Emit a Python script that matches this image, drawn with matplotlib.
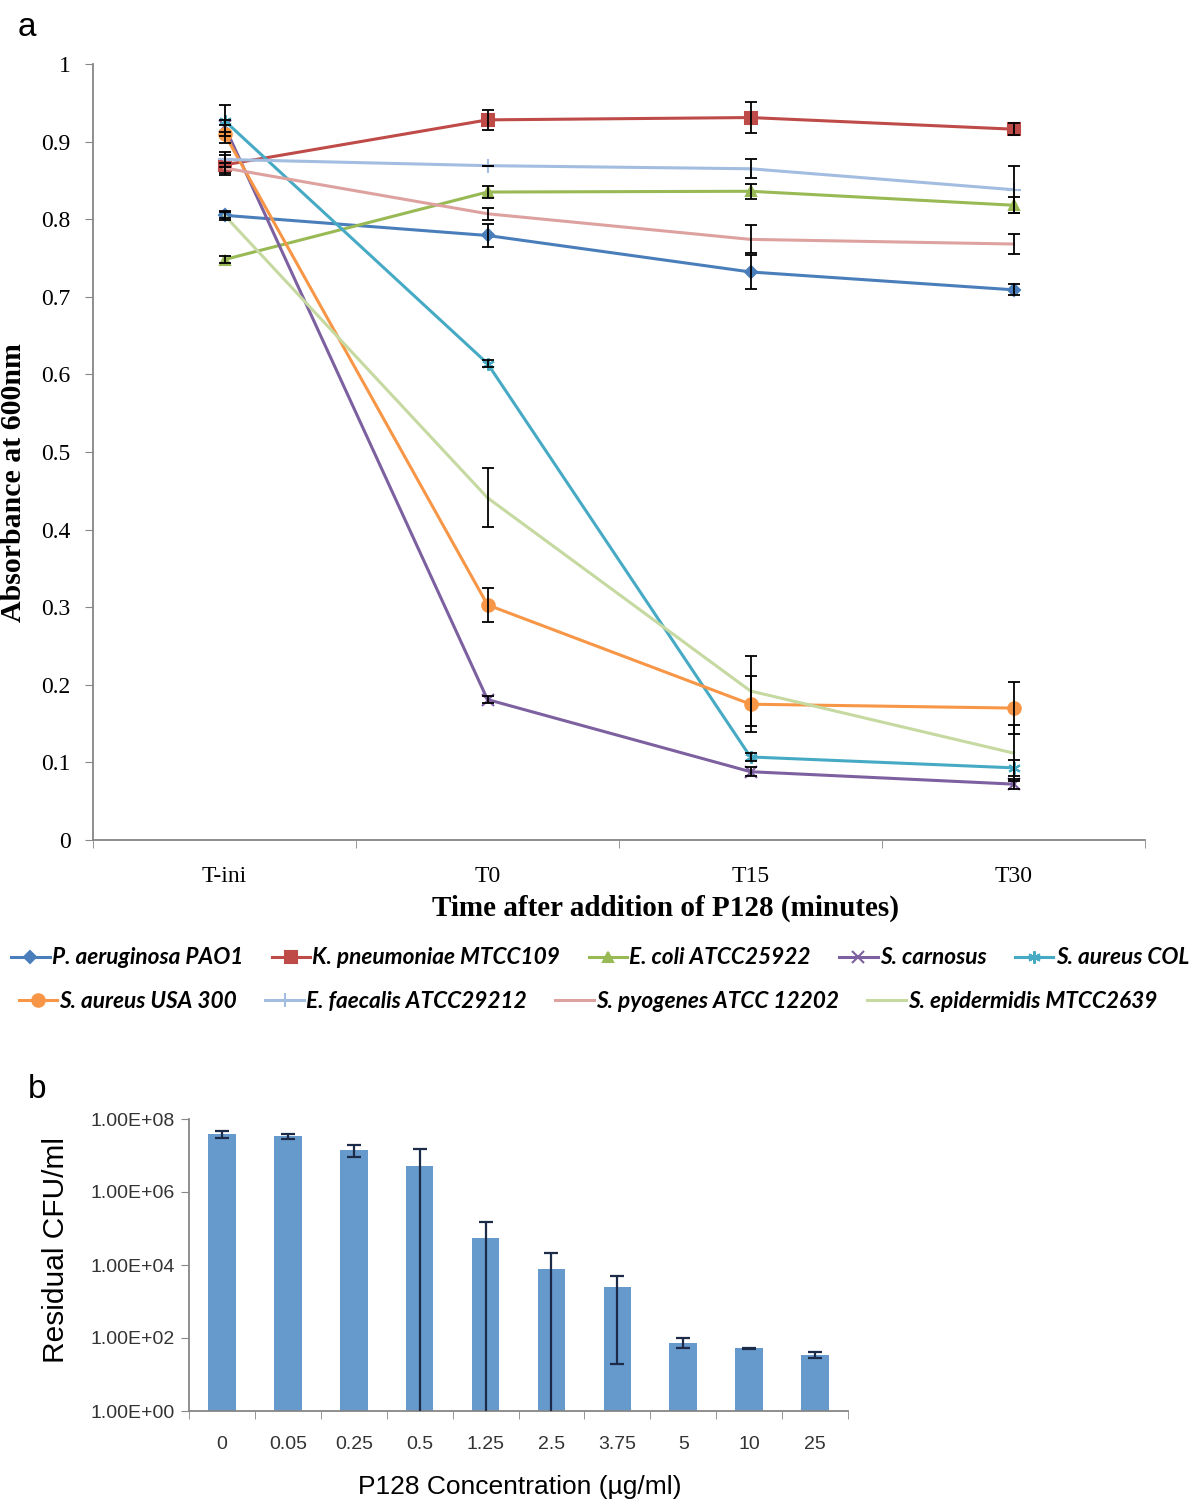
import numpy as np
import matplotlib.pyplot as plt
from matplotlib.ticker import FixedLocator, NullFormatter, FixedFormatter

# ---- panel a: absorbance over time ----
times = ['T-ini', 'T0', 'T15', 'T30']

strains = ['P. aeruginosa PAO1', 'K. pneumoniae MTCC109', 'E. coli ATCC25922',
           'S. carnosus', 'S. aureus COL', 'S. aureus USA 300',
           'E. faecalis ATCC29212', 'S. pyogenes ATCC 12202', 'S. epidermidis MTCC2639']

pao1 = [0.805, 0.779, 0.732, 0.709]
pao1_err = [0.006, 0.015, 0.022, 0.007]
kpn = [0.870, 0.928, 0.931, 0.916]
kpn_err = [0.013, 0.013, 0.020, 0.008]
ecoli = [0.748, 0.835, 0.836, 0.818]
ecoli_err = [0.004, 0.008, 0.010, 0.010]
scarn = [0.920, 0.181, 0.088, 0.072]
scarn_err = [0.008, 0.004, 0.006, 0.006]
col = [0.927, 0.614, 0.107, 0.093]
col_err = [0.020, 0.004, 0.005, 0.010]
usa300 = [0.910, 0.303, 0.175, 0.170]
usa300_err = [0.012, 0.022, 0.036, 0.034]
faec = [0.877, 0.869, 0.865, 0.838]
faec_err = [0.010, 0.0, 0.012, 0.030]
pyog = [0.866, 0.807, 0.774, 0.768]
pyog_err = [0.006, 0.008, 0.018, 0.013]
epid = [0.805, 0.441, 0.192, 0.112]
epid_err = [0.004, 0.038, 0.045, 0.036]

series = [pao1, kpn, ecoli, scarn, col, usa300, faec, pyog, epid]
errors = [pao1_err, kpn_err, ecoli_err, scarn_err, col_err, usa300_err,
          faec_err, pyog_err, epid_err]
colors = ['#4A7EBB', '#BE4B48', '#98B954', '#7D60A0', '#46AAC5', '#F79646',
          '#A3BDE0', '#DDA2A0', '#C5D9A0']
markers = ['D', 's', '^', 'x', (6, 2, 0), 'o', '+', None, None]
msizes = [6, 8, 7, 8, 9, 9, 10, 0, 0]

# ---- panel b: residual CFU ----
conc_labels = ['0', '0.05', '0.25', '0.5', '1.25', '2.5', '3.75', '5', '10', '25']
cfu = [3.9e7, 3.4e7, 1.45e7, 5.3e6, 5.5e4, 7.6e3, 2.5e3, 75, 52, 35]
cfu_err = [0.85e7, 0.5e7, 0.55e7, 1.0e7, 1.0e5, 1.4e4, 2.48e3, 22, 1, 7]

serif = 'Liberation Serif'
sans = 'Liberation Sans'
grey = '#868686'

fig = plt.figure(figsize=(12, 15.09), dpi=100)

ax = fig.add_axes([93 / 1200, 1 - 840 / 1509, 1052 / 1200, 776 / 1509])
x = np.arange(len(times))
for vals, err in zip(series, errors):
    ax.errorbar(x, vals, yerr=err, fmt='none', ecolor='black', elinewidth=1.3,
                capsize=4, capthick=1.3, zorder=3)
for name, vals, c, m, ms in zip(strains, series, colors, markers, msizes):
    ax.plot(x, vals, color=c, lw=2.2, marker=m, markersize=ms,
            markeredgewidth=1.5, label=name, zorder=2)

ax.set_xlim(-0.5, 3.5)
ax.set_ylim(0, 1)
ax.set_xticks(x)
ax.set_xticklabels(times, fontsize=17, family=serif)
ax.xaxis.set_minor_locator(FixedLocator(np.arange(-0.5, 4, 1)))
ax.tick_params(axis='x', which='major', length=0, pad=19)
ax.tick_params(axis='x', which='minor', length=6, color=grey, direction='out')
ax.set_yticks(np.arange(0, 1.01, 0.1))
ax.set_yticklabels(['0', '0.1', '0.2', '0.3', '0.4', '0.5', '0.6', '0.7', '0.8', '0.9', '1'],
                   fontsize=17, family=serif)
ax.tick_params(axis='y', length=6, color=grey, pad=10)
for s in ['top', 'right']:
    ax.spines[s].set_visible(False)
for s in ['left', 'bottom']:
    ax.spines[s].set_color(grey)
    ax.spines[s].set_linewidth(1.3)
ax.set_ylabel('Absorbance at 600nm', fontsize=21.5, family=serif, fontweight='bold')
ax.yaxis.set_label_coords(-66 / 1052, 0.46)
ax.set_xlabel('Time after addition of P128 (minutes)', fontsize=21, family=serif,
              fontweight='bold')
ax.xaxis.set_label_coords(0.544, -55 / 776)

fig.text(18 / 1200, 1 - 28 / 1509, 'a', fontsize=24, family=sans, va='center')

handles, labels = ax.get_legend_handles_labels()
leg_font = dict(family='Lato', style='italic', weight='bold', size=16.3)
fig.legend(handles[:5], labels[:5], loc='center', ncol=5,
           bbox_to_anchor=(0.5, 1 - 958 / 1509), frameon=False, prop=leg_font,
           handlelength=1.7, handletextpad=0.1, columnspacing=1.25)
fig.legend(handles[5:], labels[5:], loc='center', ncol=4,
           bbox_to_anchor=(0.49, 1 - 1001 / 1509), frameon=False, prop=leg_font,
           handlelength=1.7, handletextpad=0.1, columnspacing=1.25)

# panel b
bx = fig.add_axes([189 / 1200, 1 - 1411 / 1509, 659 / 1200, 292 / 1509])
xb = np.arange(len(conc_labels))
cfu_arr = np.array(cfu)
err_arr = np.array(cfu_err)
lower = np.where(err_arr >= cfu_arr, cfu_arr * (1 - 1e-12), err_arr)
bx.bar(xb, cfu, width=0.42, color='#6699CC', zorder=2)
bx.errorbar(xb, cfu, yerr=[lower, err_arr], fmt='none', ecolor='#1C2B47',
            elinewidth=1.6, capsize=5, capthick=1.6, zorder=3)
bx.set_yscale('log')
bx.set_ylim(1, 1e8)
bx.set_xlim(-0.5, len(conc_labels) - 0.5)
bx.yaxis.set_major_locator(FixedLocator([1, 1e2, 1e4, 1e6, 1e8]))
bx.yaxis.set_major_formatter(FixedFormatter(['1.00E+00', '1.00E+02', '1.00E+04',
                                             '1.00E+06', '1.00E+08']))
bx.yaxis.set_minor_locator(FixedLocator([]))
bx.yaxis.set_minor_formatter(NullFormatter())
bx.set_xticks(xb)
bx.set_xticklabels(conc_labels)
bx.xaxis.set_minor_locator(FixedLocator(np.arange(-0.5, len(conc_labels), 1)))
bx.tick_params(axis='x', which='major', length=0, pad=18, labelsize=14, labelcolor='#333333')
bx.tick_params(axis='x', which='minor', length=6, color=grey)
bx.tick_params(axis='y', length=6, color=grey, labelsize=14, labelcolor='#333333', pad=4)
for t in bx.get_xticklabels() + bx.get_yticklabels():
    t.set_family(sans)
for s in ['top', 'right']:
    bx.spines[s].set_visible(False)
for s in ['left', 'bottom']:
    bx.spines[s].set_color(grey)
    bx.spines[s].set_linewidth(1.3)
bx.set_ylabel('Residual CFU/ml', fontsize=21.5, family=sans)
bx.yaxis.set_label_coords(-119 / 659, (1411 - 1250) / 292)
bx.set_xlabel('P128 Concentration (\u00b5g/ml)', fontsize=19, family=sans)
bx.xaxis.set_label_coords((520 - 189) / 659, -64 / 292)

fig.text(28 / 1200, 1 - 1090 / 1509, 'b', fontsize=24, family=sans, va='center')

fig.savefig('out.png', dpi=100, facecolor='white')
